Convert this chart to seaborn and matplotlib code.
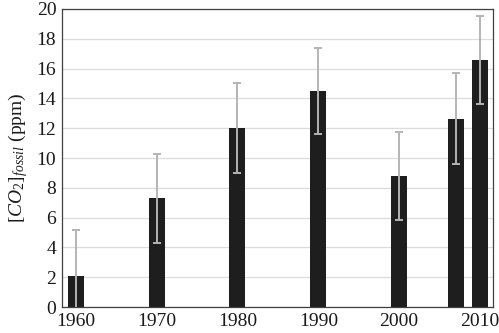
import numpy as np
import pandas as pd
import seaborn as sns
import matplotlib
matplotlib.use("Agg")
import matplotlib.pyplot as plt

# data
years = [1960, 1970, 1980, 1990, 2000, 2007, 2010]
co2_fossil = [2.1, 7.3, 12.0, 14.5, 8.8, 12.65, 16.55]
err = [3.05, 3.0, 3.0, 2.9, 2.95, 3.05, 2.95]
xticks = [1960, 1970, 1980, 1990, 2000, 2010]
yticks = [0, 2, 4, 6, 8, 10, 12, 14, 16, 18, 20]

sns.set_style("white")
plt.rcParams['font.family'] = ['Liberation Serif', 'DejaVu Serif']
plt.rcParams['mathtext.fontset'] = 'custom'
plt.rcParams['mathtext.rm'] = 'Liberation Serif'
plt.rcParams['mathtext.it'] = 'Liberation Serif:italic'

df = pd.DataFrame({'year': years, 'co2': co2_fossil})

fig = plt.figure(figsize=(4.99, 3.33), dpi=100)
ax = fig.add_axes([0.124, 0.078, 0.864, 0.895])

sns.barplot(data=df, x='year', y='co2', native_scale=True, width=0.66,
            color='#1e1e1e', saturation=1, errorbar=None, ax=ax, zorder=2,
            linewidth=0)

# error bars (lower part clipped by the axis)
ax.errorbar(years, co2_fossil, yerr=err, fmt='none', ecolor='#b4b4b4',
            elinewidth=1.4, capsize=3, capthick=1.4, zorder=3, clip_on=True)

ax.set_xlim(1958.3, 2011.6)
ax.set_ylim(0, 20)
ax.set_xticks(xticks)
ax.set_yticks(yticks)
ax.tick_params(axis='both', length=0, labelsize=14, pad=4, labelcolor='#1a1a1a')
ax.yaxis.grid(True, color='#dcdcdc', linewidth=0.9, zorder=0)
ax.set_axisbelow(True)
for s in ax.spines.values():
    s.set_color('#404040')
    s.set_linewidth(0.9)

ax.set_xlabel('')
ax.set_ylabel(r'$[CO_2]_{fossil}$ (ppm)', fontsize=14, labelpad=5, color='#1a1a1a')

plt.savefig('out.png', dpi=100)
